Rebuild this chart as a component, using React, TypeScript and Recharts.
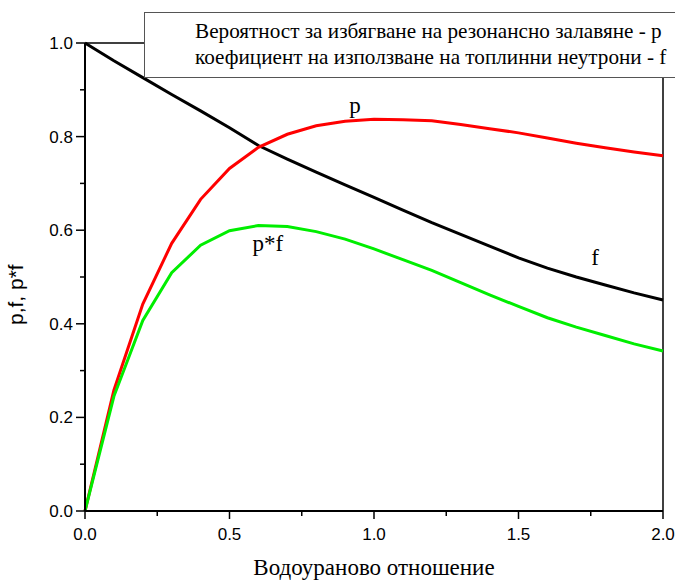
import React from 'react';
import { LineChart, Line, XAxis, YAxis, ReferenceLine, ReferenceDot } from 'recharts';

// water-to-uranium ratio
const ratio = [0, 0.1, 0.2, 0.3, 0.4, 0.5, 0.6, 0.7, 0.8, 0.9, 1.0, 1.1, 1.2, 1.3, 1.4, 1.5, 1.6, 1.7, 1.8, 1.9, 2.0];
// resonance escape probability
const pValues = [0, 0.258, 0.442, 0.572, 0.666, 0.732, 0.777, 0.805, 0.823, 0.833, 0.837, 0.836, 0.834, 0.826, 0.817, 0.808, 0.797, 0.786, 0.776, 0.767, 0.759];
// thermal utilisation factor
const fValues = [1.0, 0.962, 0.926, 0.89, 0.855, 0.819, 0.781, 0.752, 0.724, 0.697, 0.67, 0.643, 0.616, 0.591, 0.566, 0.541, 0.519, 0.5, 0.483, 0.466, 0.451];
// product p*f
const pfValues = [0, 0.245, 0.407, 0.509, 0.568, 0.599, 0.61, 0.608, 0.597, 0.581, 0.56, 0.537, 0.514, 0.488, 0.462, 0.437, 0.413, 0.393, 0.375, 0.357, 0.342];

const xTicks = [0, 0.25, 0.5, 0.75, 1.0, 1.25, 1.5, 1.75, 2.0];
const xMajor = [0, 0.5, 1.0, 1.5, 2.0];
const yTicks = [0, 0.1, 0.2, 0.3, 0.4, 0.5, 0.6, 0.7, 0.8, 0.9, 1.0];
const yMajor = [0, 0.2, 0.4, 0.6, 0.8, 1.0];

const legendLines = [
  'Вероятност за избягване на резонансно залавяне - p',
  'коефициент на използване на топлинни неутрони - f',
];

const data = ratio.map((r, i) => ({ r, p: pValues[i], f: fValues[i], pf: pfValues[i] }));

const sans = "Arial, 'Liberation Sans', sans-serif";
const serif = "'Liberation Serif', 'DejaVu Serif', serif";

const isMajor = (list: number[], v: number) => list.some(m => Math.abs(m - v) < 1e-6);

const XTick = (props: any) => {
  const { x, y, payload } = props;
  const major = isMajor(xMajor, payload.value);
  return (
    <g>
      <line x1={x} x2={x} y1={y} y2={y + (major ? 8 : 5)} stroke="#000" strokeWidth={1.5} />
      {major && (
        <text x={x} y={y + 29} textAnchor="middle" fontFamily={sans} fontSize={17} fill="#000">
          {payload.value.toFixed(1)}
        </text>
      )}
    </g>
  );
};

const YTick = (props: any) => {
  const { x, y, payload } = props;
  const major = isMajor(yMajor, payload.value);
  return (
    <g>
      <line x1={x} x2={x - (major ? 9 : 5)} y1={y} y2={y} stroke="#000" strokeWidth={1.5} />
      {major && (
        <text x={x - 12} y={y + 6} textAnchor="end" fontFamily={sans} fontSize={17} fill="#000">
          {payload.value.toFixed(1)}
        </text>
      )}
    </g>
  );
};

export default function App() {
  return (
    <div style={{ position: 'absolute', left: 0, top: 0, width: 675, height: 580, background: '#fff' }}>
      <LineChart width={675} height={580} data={data} margin={{ top: 43, right: 12, bottom: 0, left: 0 }}>
        <XAxis
          dataKey="r"
          type="number"
          domain={[0, 2]}
          ticks={xTicks}
          tick={<XTick />}
          tickLine={false}
          tickSize={0}
          tickMargin={0}
          height={69}
          stroke="#000"
          strokeWidth={2}
          label={{ value: 'Водоураново отношение', position: 'insideBottom', offset: 5, fontFamily: serif, fontSize: 23, fill: '#000' }}
        />
        <YAxis
          type="number"
          domain={[0, 1]}
          ticks={yTicks}
          tick={<YTick />}
          tickLine={false}
          tickSize={0}
          tickMargin={0}
          width={85}
          stroke="#000"
          strokeWidth={2}
          label={{ value: 'p,f, p*f', angle: -90, position: 'insideLeft', offset: 16, dy: 48, fontFamily: sans, fontSize: 21, fill: '#000' }}
        />
        <ReferenceLine x={2} stroke="#000" strokeWidth={1.5} />
        <ReferenceLine y={1} stroke="#000" strokeWidth={1.5} />
        <Line type="linear" dataKey="f" stroke="#000" strokeWidth={3} dot={false} isAnimationActive={false} />
        <Line type="linear" dataKey="p" stroke="#ff0000" strokeWidth={3} dot={false} isAnimationActive={false} />
        <Line type="linear" dataKey="pf" stroke="#00ee00" strokeWidth={3} dot={false} isAnimationActive={false} />
        <ReferenceDot x={0.934} y={0.868} r={0} fill="none" stroke="none"
          label={{ value: 'p', position: 'center', fontFamily: serif, fontSize: 23, fill: '#000' }} />
        <ReferenceDot x={1.765} y={0.543} r={0} fill="none" stroke="none"
          label={{ value: 'f', position: 'center', fontFamily: serif, fontSize: 23, fill: '#000' }} />
        <ReferenceDot x={0.633} y={0.573} r={0} fill="none" stroke="none"
          label={{ value: 'p*f', position: 'center', fontFamily: serif, fontSize: 23, fill: '#000' }} />
      </LineChart>
      <div
        style={{
          position: 'absolute',
          left: 144,
          top: 12,
          width: 540,
          height: 66,
          border: '1px solid #555',
          background: '#fff',
          fontFamily: serif,
          fontSize: 21.2,
          lineHeight: '26px',
          paddingLeft: 50,
          paddingTop: 5,
          boxSizing: 'border-box',
          color: '#000',
          whiteSpace: 'nowrap',
        }}
      >
        {legendLines.map(t => (
          <div key={t}>{t}</div>
        ))}
      </div>
    </div>
  );
}
